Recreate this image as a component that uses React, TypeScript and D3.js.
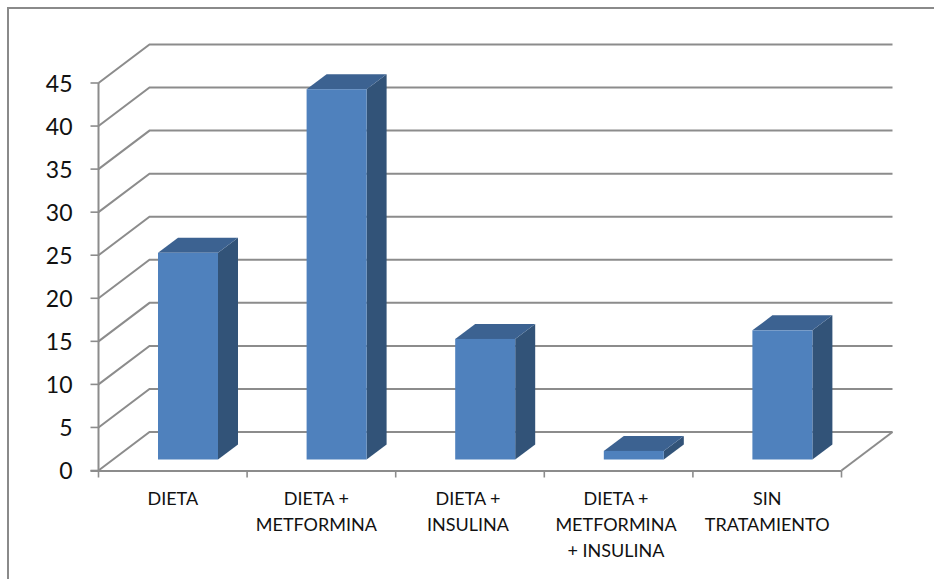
import React from "react";
import * as d3 from "d3";

const categories: string[][] = [
  ["DIETA"],
  ["DIETA +", "METFORMINA"],
  ["DIETA +", "INSULINA"],
  ["DIETA +", "METFORMINA", "+ INSULINA"],
  ["SIN", "TRATAMIENTO"],
];
const values = [24, 43, 14, 1, 15];
const yTicks = [0, 5, 10, 15, 20, 25, 30, 35, 40, 45];

const W = 934;
const H = 579;
const GRID = "#8c8c8c";
const FONT = "Lato, Carlito, 'Open Sans', sans-serif";

// Oblique projection: front plane of the plot and the offset of the back wall.
const x0 = 98.5;
const x1 = 841.5;
const wallDx = 51;
const wallDy = -38.5;
const barDx = 20;
const barDy = -15;

const band = d3.scaleBand<number>().domain(d3.range(values.length)).range([x0, x1]);
const y = d3.scaleLinear().domain([0, 45]).range([470.5, 83]);
const barBase = 459.5;
const barWidth = 60;
const barInset = 59.5;
const unit = y(0) - y(1);

// Horizontal nudge of each wrapped label relative to its slot centre.
const labelNudge = [0, -5, -2, -2.6, 0];
const labelCenter = (i: number) => (band(i) as number) + band.step() / 2 + labelNudge[i];

const poly = (pts: [number, number][]) => d3.line()(pts) + "Z";

export default function App() {
  return (
    <svg
      width={W}
      height={H}
      viewBox={`0 0 ${W} ${H}`}
      style={{ position: "absolute", left: 0, top: 0, background: "#fff" }}
    >
      {/* chart frame, cut off at the right and bottom edges */}
      <path d="M8 579V8H934" fill="none" stroke="#8a8a8a" strokeWidth={2} />

      {/* side wall and back wall gridlines */}
      {yTicks.map((t) => (
        <path
          key={t}
          d={d3.line()([
            [x0, y(t)],
            [x0 + wallDx, y(t) + wallDy],
            [x1 + wallDx, y(t) + wallDy],
          ]) as string}
          fill="none"
          stroke={GRID}
          strokeWidth={2}
        />
      ))}
      <path
        d={d3.line()([
          [x1, y(0)],
          [x1 + wallDx, y(0) + wallDy],
        ]) as string}
        fill="none"
        stroke={GRID}
        strokeWidth={2}
      />

      {/* axes */}
      <line x1={x0} x2={x0} y1={y(45)} y2={y(0)} stroke={GRID} strokeWidth={2} />
      <line x1={x0 - 8} x2={x1} y1={y(0) + 0.5} y2={y(0) + 0.5} stroke={GRID} strokeWidth={2} />
      {yTicks.map((t) => (
        <line key={t} x1={x0 - 8} x2={x0} y1={y(t)} y2={y(t)} stroke={GRID} strokeWidth={1.6} />
      ))}
      {d3.range(values.length + 1).map((i) => {
        const tx = x0 + i * band.step();
        return <line key={i} x1={tx} x2={tx} y1={y(0)} y2={y(0) + 7} stroke={GRID} strokeWidth={1.6} />;
      })}

      {/* bars */}
      {values.map((v, i) => {
        const l = (band(i) as number) + barInset;
        const r = l + barWidth;
        const top = barBase - v * unit;
        return (
          <g key={i}>
            <path
              d={poly([
                [r, barBase],
                [r + barDx, barBase + barDy],
                [r + barDx, top + barDy],
                [r, top],
              ])}
              fill="#325378"
            />
            <path
              d={poly([
                [l, top],
                [l + barDx, top + barDy],
                [r + barDx, top + barDy],
                [r, top],
              ])}
              fill="#3c6291"
            />
            <rect x={l} y={top} width={barWidth} height={v * unit} fill="#4f81bd" />
          </g>
        );
      })}

      {/* value axis labels */}
      {yTicks.map((t) => (
        <text
          key={t}
          x={72.5}
          y={y(t) + 8.5}
          textAnchor="end"
          fontFamily={FONT}
          fontSize={23}
          fill="#111"
        >
          {t}
        </text>
      ))}

      {/* category labels */}
      {categories.map((lines, i) => (
        <text
          key={i}
          textAnchor="middle"
          fontFamily={FONT}
          fontSize={18}
          fill="#111"
        >
          {lines.map((ln, j) => (
            <tspan key={j} x={labelCenter(i)} y={505 + j * 26}>
              {ln}
            </tspan>
          ))}
        </text>
      ))}
    </svg>
  );
}
